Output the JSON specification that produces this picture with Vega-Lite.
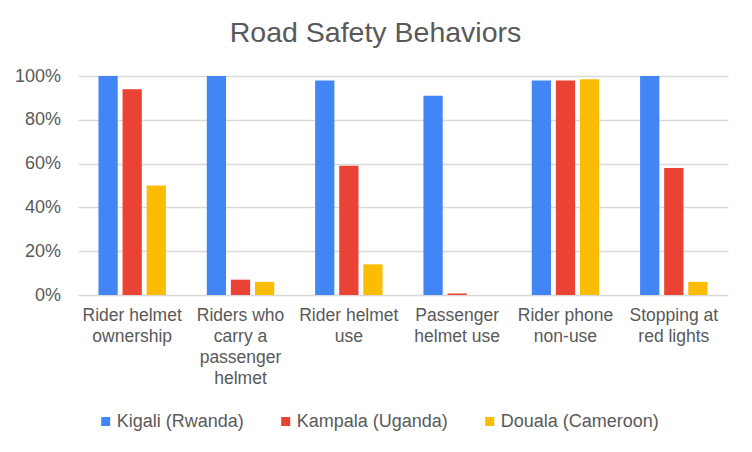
{
  "$schema": "https://vega.github.io/schema/vega-lite/v6.json",
  "width": 650,
  "height": 219,
  "autosize": {"type": "none"},
  "padding": {"left": 78, "top": 76, "right": 24, "bottom": 157},
  "background": "white",
  "title": {
    "text": "Road Safety Behaviors",
    "font": "Liberation Sans",
    "fontSize": 28.5,
    "fontWeight": "normal",
    "color": "#595959",
    "anchor": "middle",
    "frame": "group",
    "baseline": "alphabetic",
    "dx": -27.5,
    "offset": -3
  },
  "data": {
    "values": [
      {"behavior": "Rider helmet ownership", "city": "Kigali (Rwanda)", "value": 1.00},
      {"behavior": "Rider helmet ownership", "city": "Kampala (Uganda)", "value": 0.94},
      {"behavior": "Rider helmet ownership", "city": "Douala (Cameroon)", "value": 0.50},
      {"behavior": "Riders who carry a passenger helmet", "city": "Kigali (Rwanda)", "value": 1.00},
      {"behavior": "Riders who carry a passenger helmet", "city": "Kampala (Uganda)", "value": 0.07},
      {"behavior": "Riders who carry a passenger helmet", "city": "Douala (Cameroon)", "value": 0.06},
      {"behavior": "Rider helmet use", "city": "Kigali (Rwanda)", "value": 0.98},
      {"behavior": "Rider helmet use", "city": "Kampala (Uganda)", "value": 0.59},
      {"behavior": "Rider helmet use", "city": "Douala (Cameroon)", "value": 0.14},
      {"behavior": "Passenger helmet use", "city": "Kigali (Rwanda)", "value": 0.91},
      {"behavior": "Passenger helmet use", "city": "Kampala (Uganda)", "value": 0.007},
      {"behavior": "Passenger helmet use", "city": "Douala (Cameroon)", "value": 0.0},
      {"behavior": "Rider phone non-use", "city": "Kigali (Rwanda)", "value": 0.98},
      {"behavior": "Rider phone non-use", "city": "Kampala (Uganda)", "value": 0.98},
      {"behavior": "Rider phone non-use", "city": "Douala (Cameroon)", "value": 0.985},
      {"behavior": "Stopping at red lights", "city": "Kigali (Rwanda)", "value": 1.00},
      {"behavior": "Stopping at red lights", "city": "Kampala (Uganda)", "value": 0.58},
      {"behavior": "Stopping at red lights", "city": "Douala (Cameroon)", "value": 0.06}
    ]
  },
  "mark": {"type": "bar"},
  "encoding": {
    "x": {
      "field": "behavior",
      "type": "nominal",
      "sort": null,
      "scale": {"paddingInner": 0.333, "paddingOuter": 0.1667},
      "axis": {
        "title": null,
        "labelAngle": 0,
        "domain": false,
        "ticks": false,
        "labelPadding": 11,
        "labelLineHeight": 21,
        "labelBaseline": "top",
        "labelLimit": 0,
        "labelFontSize": 17.5,
        "labelExpr": "datum.label == 'Rider helmet ownership' ? ['Rider helmet','ownership'] : datum.label == 'Riders who carry a passenger helmet' ? ['Riders who','carry a','passenger','helmet'] : datum.label == 'Rider helmet use' ? ['Rider helmet','use'] : datum.label == 'Passenger helmet use' ? ['Passenger','helmet use'] : datum.label == 'Rider phone non-use' ? ['Rider phone','non-use'] : ['Stopping at','red lights']"
      }
    },
    "xOffset": {
      "field": "city",
      "type": "nominal",
      "sort": ["Kigali (Rwanda)", "Kampala (Uganda)", "Douala (Cameroon)"],
      "scale": {"paddingInner": 0.2, "paddingOuter": 0.1}
    },
    "y": {
      "field": "value",
      "type": "quantitative",
      "scale": {"domain": [0, 1], "nice": false},
      "axis": {
        "title": null,
        "values": [0, 0.2, 0.4, 0.6, 0.8, 1],
        "format": ".0%",
        "domain": false,
        "ticks": false,
        "labelPadding": 17.5,
        "gridColor": "#d9d9d9",
        "gridWidth": 1.5
      }
    },
    "color": {
      "field": "city",
      "type": "nominal",
      "sort": ["Kigali (Rwanda)", "Kampala (Uganda)", "Douala (Cameroon)"],
      "scale": {
        "domain": ["Kigali (Rwanda)", "Kampala (Uganda)", "Douala (Cameroon)"],
        "range": ["#4285F4", "#EA4335", "#FBBC04"]
      },
      "legend": {
        "title": null,
        "orient": "none",
        "direction": "horizontal",
        "legendX": 18.7,
        "legendY": 336.5,
        "padding": 0,
        "symbolType": "square",
        "symbolSize": 81,
        "symbolStrokeWidth": 0,
        "labelOffset": 2,
        "columnPadding": 32,
        "labelFontSize": 18,
        "labelFont": "Liberation Sans",
        "labelColor": "#595959",
        "labelLimit": 0
      }
    }
  },
  "config": {
    "view": {"stroke": null},
    "axis": {
      "labelFont": "Liberation Sans",
      "labelFontSize": 18,
      "labelColor": "#595959"
    }
  }
}
